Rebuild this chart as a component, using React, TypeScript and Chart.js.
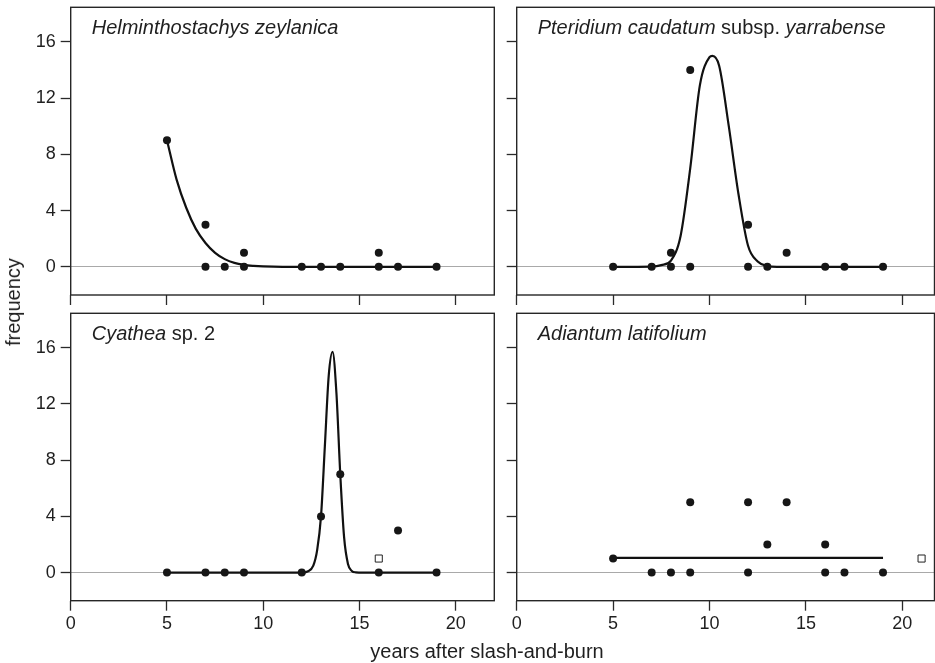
import React, { useEffect, useRef } from 'react';
import { Chart, registerables } from 'chart.js';

Chart.register(...registerables);

// ---------- data ----------
const X_TICKS = [0, 5, 10, 15, 20];
const Y_TICKS = [0, 4, 8, 12, 16];

// Helminthostachys zeylanica
const A_X = [5, 7, 7, 8, 9, 9, 12, 13, 14, 16, 16, 17, 19];
const A_Y = [9, 3, 0, 0, 1, 0, 0, 0, 0, 1, 0, 0, 0];
const A_FIT_X = [5, 5.5, 6, 6.5, 7, 7.5, 8, 8.5, 9, 9.5, 10, 11, 12, 19];
const A_FIT_Y = [9, 6.2, 4.2, 2.7, 1.7, 1.0, 0.55, 0.28, 0.14, 0.07, 0.03, 0, 0, 0];

// Pteridium caudatum subsp. yarrabense
const B_X = [5, 7, 8, 8, 9, 9, 12, 12, 13, 14, 16, 17, 19];
const B_Y = [0, 0, 1, 0, 14, 0, 3, 0, 0, 1, 0, 0, 0];
const B_FIT_X = [5, 7, 7.5, 8, 8.5, 9, 9.5, 10, 10.15, 10.5, 11, 11.5, 12, 12.5, 13, 13.5, 19];
const B_FIT_Y = [0, 0.02, 0.12, 0.45, 2.2, 7.0, 12.9, 14.9, 15.0, 14.3, 10.0, 5.2, 1.5, 0.38, 0.06, 0, 0];

// Cyathea sp. 2
const C_X = [5, 7, 8, 9, 12, 13, 14, 16, 17, 19];
const C_Y = [0, 0, 0, 0, 0, 4, 7, 0, 3, 0];
const C_OPEN_X = [16];
const C_OPEN_Y = [1];
const C_FIT_X = [5, 12, 12.3, 12.6, 12.8, 13, 13.2, 13.4, 13.6, 13.8, 14, 14.2, 14.4, 14.6, 14.8, 15.2, 19];
const C_FIT_Y = [0, 0, 0.08, 0.5, 1.6, 4, 9.0, 14.0, 15.7, 12.8, 7, 2.5, 0.62, 0.12, 0.02, 0, 0];

// Adiantum latifolium
const D_X = [5, 7, 8, 9, 9, 12, 12, 13, 14, 16, 16, 17, 19];
const D_Y = [1, 0, 0, 5, 0, 5, 0, 2, 5, 2, 0, 0, 0];
const D_OPEN_X = [21];
const D_OPEN_Y = [1];
const D_FIT_X = [5, 19];
const D_FIT_Y = [1.05, 1.05];

const TITLE_A = [{ text: 'Helminthostachys zeylanica', italic: true }];
const TITLE_B = [
  { text: 'Pteridium caudatum', italic: true },
  { text: ' subsp. ', italic: false },
  { text: 'yarrabense', italic: true },
];
const TITLE_C = [
  { text: 'Cyathea', italic: true },
  { text: ' sp. 2', italic: false },
];
const TITLE_D = [{ text: 'Adiantum latifolium', italic: true }];

const Y_LABEL = 'frequency';
const X_LABEL = 'years after slash-and-burn';

// ---------- drawing ----------
const FONT = '"Liberation Sans", Arial, Helvetica, sans-serif';
const INK = '#1f1f1f';

type Seg = { text: string; italic: boolean };

interface PanelProps {
  left: number;
  top: number;
  width: number;
  height: number;
  padLeft: number;
  padRight: number;
  padTop: number;
  yAxisW: number;
  xAxisH: number;
  xMax: number;
  showXLabels: boolean;
  showYLabels: boolean;
  dotsX: number[];
  dotsY: number[];
  openX?: number[];
  openY?: number[];
  fitX: number[];
  fitY: number[];
  title: Seg[];
}

const toPts = (xs: number[], ys: number[]) => xs.map((x, i) => ({ x, y: ys[i] }));

function Panel(p: PanelProps) {
  const ref = useRef<HTMLCanvasElement | null>(null);

  useEffect(() => {
    if (!ref.current) return;
    const segs = p.title;
    const decor = {
      id: 'panelDecor',
      afterDraw(chart: any) {
        const { ctx, chartArea: a } = chart;
        ctx.save();
        ctx.strokeStyle = '#262626';
        ctx.lineWidth = 1.4;
        ctx.strokeRect(a.left, a.top, a.right - a.left, a.bottom - a.top);
        let x = a.left + 21;
        const y = a.top + 27;
        ctx.fillStyle = INK;
        ctx.textAlign = 'left';
        ctx.textBaseline = 'alphabetic';
        for (const s of segs) {
          ctx.font = `${s.italic ? 'italic ' : ''}20px ${FONT}`;
          ctx.fillText(s.text, x, y);
          x += ctx.measureText(s.text).width;
        }
        ctx.restore();
      },
    };

    const datasets: any[] = [
      {
        label: 'observed',
        data: toPts(p.dotsX, p.dotsY),
        showLine: false,
        pointRadius: 4,
        pointHoverRadius: 4,
        pointBackgroundColor: '#161616',
        pointBorderWidth: 0,
      },
    ];
    if (p.openX && p.openY) {
      datasets.push({
        label: 'excluded',
        data: toPts(p.openX, p.openY),
        showLine: false,
        pointStyle: 'rect',
        pointRadius: 5,
        pointBackgroundColor: '#ffffff',
        pointBorderColor: '#222222',
        pointBorderWidth: 1,
      });
    }
    datasets.push({
      label: 'fit',
      data: toPts(p.fitX, p.fitY),
      showLine: true,
      pointRadius: 0,
      borderColor: '#111111',
      borderWidth: 2.2,
      cubicInterpolationMode: 'monotone',
      fill: false,
    });

    const chart = new Chart(ref.current, {
      type: 'scatter',
      data: { datasets },
      options: {
        responsive: false,
        animation: false,
        events: [],
        layout: {
          autoPadding: false,
          padding: { left: p.padLeft, right: p.padRight, top: p.padTop, bottom: 0 },
        },
        plugins: {
          legend: { display: false },
          tooltip: { enabled: false },
          title: { display: false },
        },
        scales: {
          x: {
            type: 'linear',
            min: 0,
            max: p.xMax,
            afterBuildTicks: (s: any) => {
              s.ticks = X_TICKS.map((v) => ({ value: v }));
            },
            afterFit: (s: any) => {
              s.height = p.xAxisH;
              s.paddingLeft = 0;
              s.paddingRight = 0;
              s.paddingTop = 0;
              s.paddingBottom = 0;
            },
            ticks: {
              display: p.showXLabels,
              autoSkip: false,
              maxRotation: 0,
              padding: 3,
              color: INK,
              font: { family: FONT, size: 18 },
              callback: (v: any) => String(v),
            },
            grid: {
              display: true,
              drawOnChartArea: false,
              drawTicks: true,
              tickLength: 10,
              tickColor: '#2a2a2a',
              tickWidth: 1.3,
            },
            border: { display: false },
          },
          y: {
            type: 'linear',
            min: -2,
            max: 18.45,
            afterBuildTicks: (s: any) => {
              s.ticks = Y_TICKS.map((v) => ({ value: v }));
            },
            afterFit: (s: any) => {
              s.width = p.yAxisW;
              s.paddingLeft = 0;
              s.paddingRight = 0;
              s.paddingTop = 0;
              s.paddingBottom = 0;
            },
            ticks: {
              display: p.showYLabels,
              autoSkip: false,
              padding: 5,
              color: INK,
              font: { family: FONT, size: 18 },
              callback: (v: any) => String(v),
            },
            grid: {
              display: true,
              drawOnChartArea: true,
              color: (c: any) => (c.tick && c.tick.value === 0 ? '#a9a9a9' : 'rgba(0,0,0,0)'),
              lineWidth: 1,
              drawTicks: true,
              tickLength: 10,
              tickColor: '#2a2a2a',
              tickWidth: 1.3,
            },
            border: { display: false },
          },
        },
      } as any,
      plugins: [decor],
    });
    return () => chart.destroy();
  }, []);

  return (
    <canvas
      ref={ref}
      width={p.width}
      height={p.height}
      style={{ position: 'absolute', left: p.left, top: p.top, width: p.width, height: p.height }}
    />
  );
}

export default function App() {
  const leftCol = { left: 0, width: 500, padLeft: 0, padRight: 5.7, yAxisW: 70.7, xMax: 22, showYLabels: true };
  const rightCol = { left: 500, width: 435, padLeft: 0, padRight: 0.5, yAxisW: 16.7, xMax: 21.67, showYLabels: false };
  const topRow = { top: 0, height: 305, padTop: 7.3, xAxisH: 10, showXLabels: false };
  const botRow = { top: 305, height: 340, padTop: 8.3, xAxisH: 44.3, showXLabels: true };

  return (
    <div
      style={{
        position: 'absolute',
        left: 0,
        top: 0,
        width: 935,
        height: 663,
        background: '#ffffff',
        overflow: 'hidden',
      }}
    >
      <Panel {...leftCol} {...topRow} dotsX={A_X} dotsY={A_Y} fitX={A_FIT_X} fitY={A_FIT_Y} title={TITLE_A} />
      <Panel {...rightCol} {...topRow} dotsX={B_X} dotsY={B_Y} fitX={B_FIT_X} fitY={B_FIT_Y} title={TITLE_B} />
      <Panel
        {...leftCol}
        {...botRow}
        dotsX={C_X}
        dotsY={C_Y}
        openX={C_OPEN_X}
        openY={C_OPEN_Y}
        fitX={C_FIT_X}
        fitY={C_FIT_Y}
        title={TITLE_C}
      />
      <Panel
        {...rightCol}
        {...botRow}
        dotsX={D_X}
        dotsY={D_Y}
        openX={D_OPEN_X}
        openY={D_OPEN_Y}
        fitX={D_FIT_X}
        fitY={D_FIT_Y}
        title={TITLE_D}
      />
      <div
        style={{
          position: 'absolute',
          left: 13,
          top: 302,
          transform: 'translate(-50%, -50%) rotate(-90deg)',
          fontFamily: FONT,
          fontSize: 20,
          lineHeight: 1,
          color: INK,
          whiteSpace: 'nowrap',
        }}
      >
        {Y_LABEL}
      </div>
      <div
        style={{
          position: 'absolute',
          left: 487,
          top: 641,
          transform: 'translateX(-50%)',
          fontFamily: FONT,
          fontSize: 20,
          lineHeight: 1,
          color: INK,
          whiteSpace: 'nowrap',
        }}
      >
        {X_LABEL}
      </div>
    </div>
  );
}
